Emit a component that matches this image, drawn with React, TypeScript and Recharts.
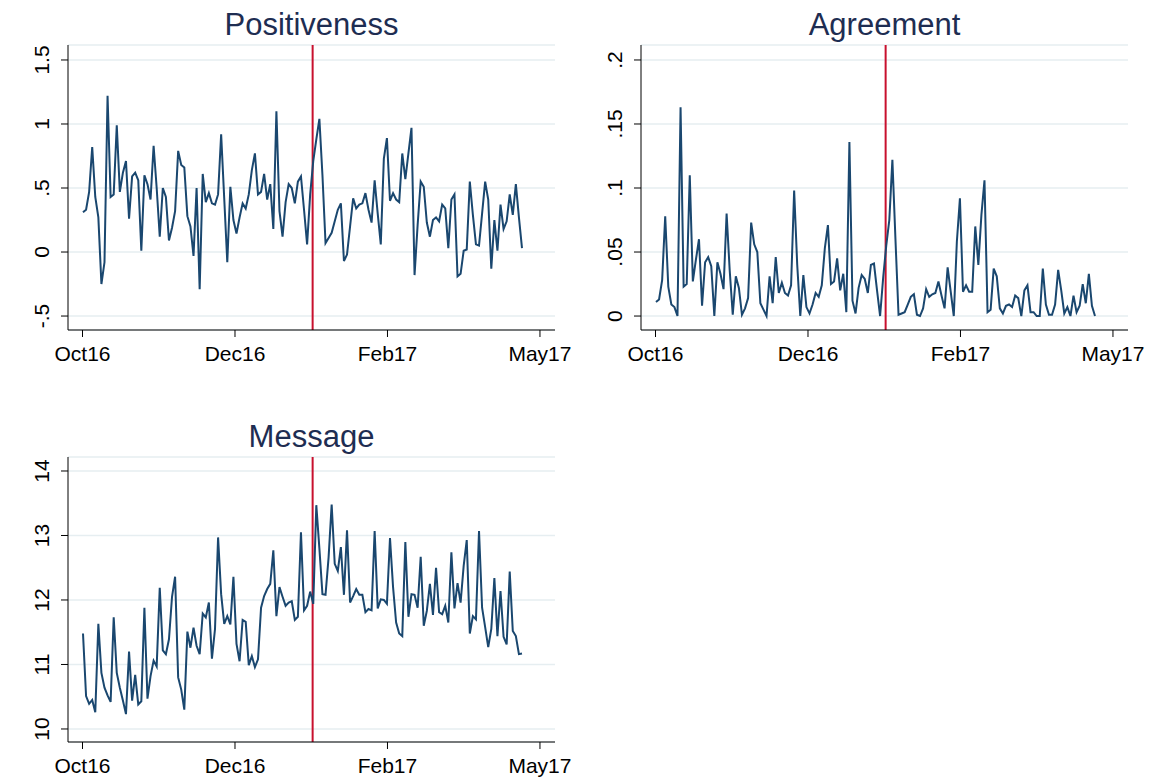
import React from "react";
import { LineChart, Line, XAxis, YAxis, CartesianGrid, ReferenceLine } from "recharts";

const positiveness = [
  0.31, 0.33, 0.47, 0.82, 0.43, 0.27, -0.25, -0.08, 1.22, 0.43,
  0.45, 0.99, 0.47, 0.62, 0.71, 0.26, 0.59, 0.62, 0.56, 0.01,
  0.6, 0.53, 0.41, 0.83, 0.5, 0.12, 0.5, 0.43, 0.09, 0.19,
  0.32, 0.79, 0.68, 0.66, 0.28, 0.2, -0.03, 0.5, -0.29, 0.61,
  0.39, 0.46, 0.38, 0.37, 0.45, 0.92, 0.42, -0.08, 0.51, 0.25,
  0.145, 0.27, 0.38, 0.34, 0.45, 0.64, 0.77, 0.45, 0.47, 0.61,
  0.41, 0.53, 0.18, 1.1, 0.32, 0.12, 0.39, 0.53, 0.5, 0.38,
  0.55, 0.59, 0.33, 0.06, 0.45, 0.71, 0.88, 1.04, 0.6, 0.07,
  0.11, 0.15, 0.24, 0.33, 0.38, -0.07, -0.02, 0.2, 0.42, 0.34,
  0.37, 0.38, 0.46, 0.33, 0.23, 0.56, 0.3, 0.06, 0.73, 0.89,
  0.4, 0.46, 0.41, 0.39, 0.77, 0.57, 0.77, 0.97, -0.18, 0.21,
  0.55, 0.51, 0.23, 0.12, 0.25, 0.27, 0.24, 0.37, 0.34, 0.03,
  0.41, 0.45, -0.19, -0.17, 0.01, 0.02, 0.55, 0.29, 0.06, 0.05,
  0.3, 0.55, 0.41, -0.13, 0.25, 0.01, 0.37, 0.18, 0.24, 0.45,
  0.29, 0.53, 0.27, 0.03,
];

const agreement = [
  0.011, 0.013, 0.028, 0.078, 0.023, 0.009, 0.007, 0.0, 0.163, 0.023,
  0.025, 0.11, 0.027, 0.044, 0.06, 0.008, 0.042, 0.046, 0.039, 0.0,
  0.042, 0.033, 0.021, 0.08, 0.036, 0.001, 0.031, 0.022, 0.001, 0.006,
  0.014, 0.073, 0.056, 0.05, 0.01, 0.005, 0.0, 0.031, 0.01, 0.046,
  0.018, 0.026, 0.018, 0.016, 0.024, 0.098, 0.04, 0.0, 0.032, 0.007,
  0.002, 0.009, 0.018, 0.015, 0.024, 0.053, 0.071, 0.025, 0.027, 0.045,
  0.02, 0.033, 0.003, 0.136, 0.012, 0.002, 0.022, 0.032, 0.029, 0.018,
  0.04, 0.041, 0.02, 0.0, 0.03, 0.055, 0.075, 0.122, 0.06, 0.001,
  0.002, 0.003, 0.009, 0.015, 0.017, 0.001, 0.0, 0.006, 0.021, 0.015,
  0.017, 0.018, 0.027, 0.016, 0.006, 0.038, 0.019, 0.0, 0.058, 0.092,
  0.019, 0.024, 0.019, 0.019, 0.07, 0.04, 0.079, 0.106, 0.003, 0.005,
  0.037, 0.031, 0.006, 0.002, 0.008, 0.009, 0.007, 0.016, 0.014, 0.0,
  0.02, 0.024, 0.003, 0.003, 0.0, 0.0, 0.037, 0.009, 0.001, 0.001,
  0.009, 0.036, 0.02, 0.002, 0.007, 0.0, 0.016, 0.003, 0.008, 0.025,
  0.01, 0.033, 0.008, 0.0,
];

const message = [
  11.48, 10.51, 10.39, 10.45, 10.26, 11.63, 10.87, 10.64, 10.52, 10.42,
  11.73, 10.87, 10.64, 10.44, 10.23, 11.2, 10.44, 10.84, 10.38, 10.43,
  11.88, 10.47, 10.82, 11.06, 10.97, 12.19, 11.22, 11.16, 11.39, 12.05,
  12.36, 10.8, 10.61, 10.3, 11.51, 11.26, 11.57, 11.29, 11.16, 11.79,
  11.73, 11.96, 11.09, 11.55, 12.97, 12.09, 11.63, 11.75, 11.62, 12.36,
  11.32, 11.05, 11.69, 11.66, 10.99, 11.13, 10.96, 11.08, 11.88, 12.06,
  12.17, 12.25, 12.77, 11.75, 12.2, 12.05, 11.91, 11.96, 11.98, 11.69,
  11.74, 13.05, 11.84, 11.91, 12.13, 11.94, 13.47, 12.8, 12.09, 12.08,
  12.66, 13.48, 12.56, 12.45, 12.82, 12.08, 13.08, 11.96, 12.06, 12.17,
  12.08, 12.08, 11.81, 11.86, 11.84, 13.07, 11.87, 12.01, 12.0, 11.94,
  12.96, 12.2, 11.65, 11.48, 11.44, 12.9, 11.74, 12.09, 12.08, 11.88,
  12.67, 11.6, 11.83, 12.25, 11.77, 12.5, 11.81, 11.78, 11.91, 11.65,
  12.74, 11.87, 12.26, 11.96, 12.53, 12.93, 11.48, 11.75, 11.7, 13.07,
  11.88, 11.58, 11.27, 11.55, 12.34, 11.44, 12.14, 11.43, 11.31, 12.44,
  11.52, 11.44, 11.16, 11.17,
];

const xTickValues = [-0.16, 49.51, 99.18, 148.85];
const xTickLabels = ["Oct16", "Dec16", "Feb17", "May17"];
const eventIndex = 74.8;

const posTicks = [-0.5, 0, 0.5, 1, 1.5];
const posLabels = ["-.5", "0", ".5", "1", "1.5"];
const agrTicks = [0, 0.05, 0.1, 0.15, 0.2];
const agrLabels = ["0", ".05", ".1", ".15", ".2"];
const msgTicks = [10, 11, 12, 13, 14];
const msgLabels = ["10", "11", "12", "13", "14"];

const FONT = "'Liberation Sans', Arial, Helvetica, sans-serif";
const LINE = "#1a476f";
const RED = "#c8102e";
const GRID = "#e6eef1";
const TITLE = "#1e2d52";

const CW = 575;
const CH = 391;
const PLOT_LEFT = 68;
const PLOT_TOP = 45;
const PLOT_BOTTOM = 330;
const XMIN = -4.886;
const XMAX = 153.75;

type PanelProps = {
  left: number;
  top: number;
  title: string;
  values: number[];
  yTicks: number[];
  yLabels: string[];
  yDomain: [number, number];
};

function Panel({ left, top, title, values, yTicks, yLabels, yDomain }: PanelProps) {
  const data = values.map((v, i) => ({ i, v }));
  const XTick = (props: any) => {
    const { x, payload } = props;
    const idx = xTickValues.indexOf(payload.value);
    return (
      <text x={x} y={PLOT_BOTTOM + 31} textAnchor="middle" fontSize={21} fontFamily={FONT} fill="#000">
        {idx >= 0 ? xTickLabels[idx] : ""}
      </text>
    );
  };
  const YTick = (props: any) => {
    const { y, payload } = props;
    const idx = yTicks.indexOf(payload.value);
    const bx = 49;
    return (
      <text
        x={bx}
        y={y}
        transform={`rotate(-90, ${bx}, ${y})`}
        textAnchor="middle"
        fontSize={21}
        fontFamily={FONT}
        fill="#000"
      >
        {idx >= 0 ? yLabels[idx] : ""}
      </text>
    );
  };
  return (
    <div style={{ position: "absolute", left, top, width: CW, height: CH }}>
      <div
        style={{
          position: "absolute",
          left: PLOT_LEFT,
          width: 555 - PLOT_LEFT,
          top: 8,
          textAlign: "center",
          fontFamily: FONT,
          fontSize: 31,
          lineHeight: "33px",
          color: TITLE,
        }}
      >
        {title}
      </div>
      <LineChart
        width={CW}
        height={CH}
        data={data}
        margin={{ top: PLOT_TOP, right: 20, bottom: 31, left: 0 }}
      >
        <CartesianGrid vertical={false} stroke={GRID} strokeWidth={1.5} />
        <XAxis
          type="number"
          dataKey="i"
          domain={[XMIN, XMAX]}
          ticks={xTickValues}
          tick={<XTick />}
          tickSize={7}
          height={30}
          allowDataOverflow
          interval={0}
          axisLine={{ stroke: "#000", strokeWidth: 1 }}
          tickLine={{ stroke: "#000", strokeWidth: 1 }}
        />
        <YAxis
          type="number"
          domain={yDomain}
          ticks={yTicks}
          tick={<YTick />}
          tickSize={7}
          width={PLOT_LEFT}
          allowDataOverflow
          interval={0}
          axisLine={{ stroke: "#000", strokeWidth: 1 }}
          tickLine={{ stroke: "#000", strokeWidth: 1 }}
        />
        <ReferenceLine x={eventIndex} stroke={RED} strokeWidth={2} />
        <Line
          type="linear"
          dataKey="v"
          stroke={LINE}
          strokeWidth={2}
          dot={false}
          isAnimationActive={false}
        />
      </LineChart>
    </div>
  );
}

export default function App() {
  return (
    <div style={{ position: "absolute", left: 0, top: 0, width: 1151, height: 782, background: "#fff" }}>
      <Panel
        left={0}
        top={0}
        title="Positiveness"
        values={positiveness}
        yTicks={posTicks}
        yLabels={posLabels}
        yDomain={[-0.609, 1.617]}
      />
      <Panel
        left={573}
        top={0}
        title="Agreement"
        values={agreement}
        yTicks={agrTicks}
        yLabels={agrLabels}
        yDomain={[-0.0109, 0.2117]}
      />
      <Panel
        left={0}
        top={412}
        title="Message"
        values={message}
        yTicks={msgTicks}
        yLabels={msgLabels}
        yDomain={[9.798, 14.217]}
      />
    </div>
  );
}
